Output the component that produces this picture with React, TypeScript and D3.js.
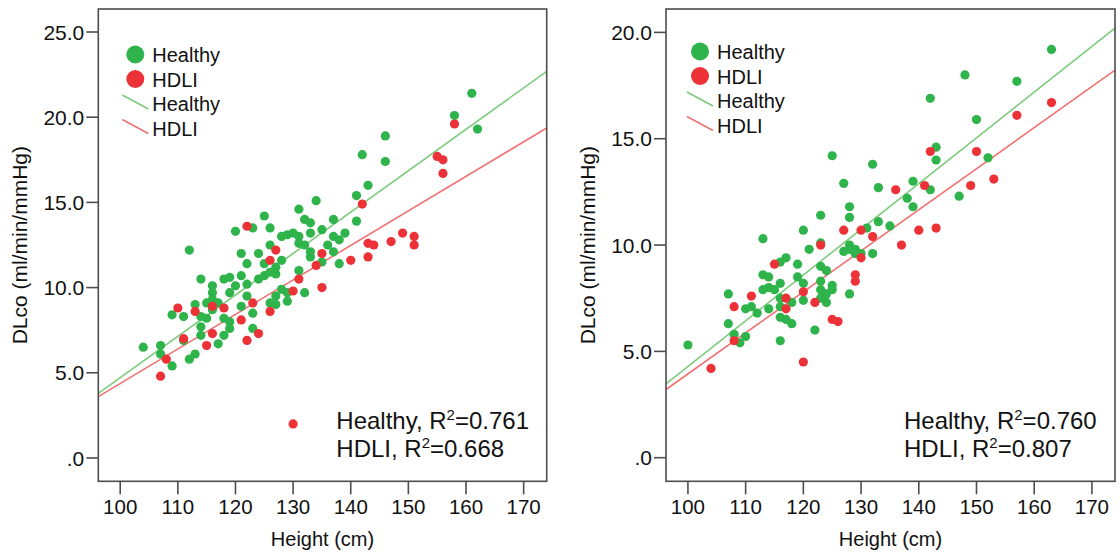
import React from "react";
import * as d3 from "d3";

// Height (cm) vs DLco (ml/min/mmHg), two cohorts side by side.

const groups = ["Healthy", "HDLI"];
const heightTicks = [100, 110, 120, 130, 140, 150, 160, 170];
const leftDlcoTicks = [0, 5, 10, 15, 20, 25];
const rightDlcoTicks = [0, 5, 10, 15, 20];

// [height, DLco]
const leftHealthy: [number, number][] = [
  [161, 21.4], [158, 20.1], [162, 19.3], [146, 18.9], [146, 17.4], [142, 17.8], [143, 16.0],
  [141, 15.4], [141, 13.9], [134, 15.1], [131, 14.6], [125, 14.2], [137, 14.0], [132, 14.0],
  [133, 13.8], [120, 13.3], [123, 13.5], [126, 13.5], [135, 13.4], [139, 13.2], [137, 13.0],
  [138, 12.8], [128, 13.0], [129, 13.1], [130, 13.2], [131, 13.0], [133, 13.2], [136, 12.5],
  [131, 12.6], [132, 12.5], [126, 12.5], [121, 12.0], [124, 12.0], [133, 12.1], [137, 12.1],
  [133, 11.8], [135, 11.5], [138, 11.4], [112, 12.2], [122, 11.4],
  [104, 6.5], [107, 6.6], [107, 6.1], [109, 5.4], [109, 8.4], [111, 8.3], [111, 6.9], [112, 5.8],
  [113, 6.1], [113, 9.0], [114, 10.5], [114, 8.3], [114, 7.7], [114, 7.2], [115, 9.1], [115, 8.2],
  [116, 10.1], [116, 9.7], [116, 9.3], [116, 8.7], [117, 9.1], [117, 6.7], [118, 10.5], [119, 10.6],
  [118, 8.2], [118, 7.2], [119, 9.7], [119, 8.0], [119, 7.6], [120, 10.1], [121, 10.7], [121, 8.9],
  [122, 10.2], [122, 9.5], [123, 8.5], [123, 7.6], [124, 10.5], [125, 11.4], [125, 10.7], [126, 10.9],
  [126, 9.1], [127, 11.2], [127, 10.8], [127, 9.5], [127, 9.0], [128, 11.6], [128, 9.9], [129, 9.7],
  [129, 9.2], [131, 11.0], [132, 9.7],
];

const leftHdli: [number, number][] = [
  [107, 4.8], [108, 5.8], [110, 8.8], [111, 7.0], [113, 8.6], [115, 6.6], [116, 8.9], [116, 7.3],
  [118, 8.8], [121, 8.1], [122, 6.9], [122, 13.6], [123, 9.1], [124, 7.3], [126, 11.6], [126, 8.6],
  [127, 12.2], [130, 9.8], [131, 10.5], [134, 11.3], [135, 12.0], [135, 10.0], [140, 11.6],
  [142, 14.9], [143, 12.6], [144, 12.5], [143, 11.8], [147, 12.7], [149, 13.2], [151, 13.0],
  [151, 12.5], [155, 17.7], [156, 17.5], [156, 16.7], [158, 19.6], [130, 2.0],
];

const rightHealthy: [number, number][] = [
  [100, 5.3], [107, 7.7], [107, 6.3], [108, 5.8], [109, 5.4], [110, 5.7], [110, 7.0], [111, 7.1],
  [112, 6.8], [113, 10.3], [113, 8.6], [114, 8.5], [114, 8.0], [114, 7.0], [113, 7.9], [115, 7.9],
  [116, 8.2], [116, 7.5], [116, 7.1], [116, 6.6], [116, 5.5], [117, 9.4], [116, 9.2], [117, 6.5],
  [118, 6.3], [118, 7.3], [119, 9.1], [119, 8.5], [120, 10.7], [120, 8.2], [120, 7.4], [121, 9.8],
  [122, 6.0], [123, 11.4], [123, 10.1], [123, 9.0], [123, 8.3], [123, 7.9], [123, 7.5], [124, 8.8],
  [124, 7.7], [124, 7.3], [125, 8.1], [125, 7.9], [125, 14.2], [127, 12.9], [128, 11.8], [128, 11.3],
  [127, 9.7], [128, 10.0], [128, 9.8], [128, 7.7], [129, 9.8], [129, 9.6], [130, 9.6], [131, 10.8],
  [132, 9.6], [133, 11.1], [133, 12.7], [132, 13.8], [135, 10.9], [138, 12.2], [139, 13.0],
  [139, 11.8], [142, 12.6], [142, 16.9], [143, 14.6], [143, 14.0], [147, 12.3], [148, 18.0],
  [150, 15.9], [152, 14.1], [157, 17.7], [163, 19.2],
];

const rightHdli: [number, number][] = [
  [104, 4.2], [108, 7.1], [108, 5.5], [111, 7.6], [115, 9.1], [117, 7.5], [117, 7.0], [120, 7.8],
  [120, 4.5], [122, 7.3], [123, 10.0], [125, 6.5], [126, 6.4], [127, 10.7], [129, 8.6], [129, 8.3],
  [130, 9.4], [130, 10.7], [132, 10.4], [136, 12.6], [137, 10.0], [140, 10.7], [141, 12.8],
  [142, 14.4], [143, 10.8], [149, 12.8], [150, 14.4], [153, 13.1], [157, 16.1], [163, 16.7],
];

// Linear fits, DLco = slope * height + intercept (Healthy, HDLI)
const leftSlopes = [0.243, 0.2026];
const leftIntercepts = [-19.59, -15.89];
const rightSlopes = [0.215, 0.193];
const rightIntercepts = [-17.21, -15.36];

const leftR2 = ["0.761", "0.668"];
const rightR2 = ["0.760", "0.807"];

const heightDomain: [number, number] = [96.2, 174.0];
const leftDlcoDomain: [number, number] = [-1.37, 26.35];
const rightDlcoDomain: [number, number] = [-1.11, 21.1];

const FONT = "'Liberation Sans', Arial, Helvetica, sans-serif";
const DOT = ["#2fb34b", "#ec3237"];
const FIT = ["#7ccb7c", "#ee7373"];
const FRAME = "#4d4d4d";

type PanelProps = {
  left: number;
  right: number;
  top: number;
  bottom: number;
  yDomain: [number, number];
  yTicks: number[];
  series: [number, number][][];
  slopes: number[];
  intercepts: number[];
  r2: string[];
  legendDx: number;
  legendDy: number;
};

function Panel(p: PanelProps) {
  const x = d3.scaleLinear().domain(heightDomain).range([p.left, p.right]);
  const y = d3.scaleLinear().domain(p.yDomain).range([p.bottom, p.top]);
  const fmt = (v: number) => (v === 0 ? ".0" : d3.format(".1f")(v));
  const line = d3
    .line<number>()
    .x((h) => x(h))
    .y((h) => y(h));

  const lx = p.left + p.legendDx;
  const ly = p.top + p.legendDy;

  return (
    <g fontFamily={FONT}>
      {/* fit lines */}
      {p.slopes.map((s, i) => (
        <path
          key={"fit" + i}
          d={line.y((h) => y(s * h + p.intercepts[i]))(heightDomain) || ""}
          fill="none"
          stroke={FIT[i]}
          strokeWidth={1.6}
        />
      ))}

      {/* points */}
      {p.series.map((pts, i) => (
        <g key={"s" + i} fill={DOT[i]}>
          {pts.map(([h, v], j) => (
            <circle key={j} cx={x(h)} cy={y(v)} r={4.6} />
          ))}
        </g>
      ))}

      {/* frame */}
      <rect
        x={p.left}
        y={p.top}
        width={p.right - p.left}
        height={p.bottom - p.top}
        fill="none"
        stroke={FRAME}
        strokeWidth={1.6}
      />

      {/* y axis */}
      {p.yTicks.map((t) => (
        <g key={"y" + t}>
          <line x1={p.left - 12} x2={p.left} y1={y(t)} y2={y(t)} stroke={FRAME} strokeWidth={1.6} />
          <text x={p.left - 14} y={y(t)} dy="0.36em" textAnchor="end" fontSize={21} fill="#111">
            {fmt(t)}
          </text>
        </g>
      ))}

      {/* x axis */}
      {heightTicks.map((t) => (
        <g key={"x" + t}>
          <line x1={x(t)} x2={x(t)} y1={p.bottom} y2={p.bottom + 13} stroke={FRAME} strokeWidth={1.6} />
          <text x={x(t)} y={p.bottom + 33} textAnchor="middle" fontSize={20.5} fill="#111">
            {t}
          </text>
        </g>
      ))}

      <text
        x={(p.left + p.right) / 2}
        y={546}
        textAnchor="middle"
        fontSize={20}
        fill="#111"
      >
        Height (cm)
      </text>
      <text
        transform={`translate(${p.left - 71},${(p.top + p.bottom) / 2}) rotate(-90)`}
        textAnchor="middle"
        fontSize={21}
        fill="#111"
      >
        DLco (ml/min/mmHg)
      </text>

      {/* legend */}
      {groups.map((g, i) => (
        <g key={"lm" + g}>
          <circle cx={lx} cy={ly + i * 24.5 - 7.5} r={9} fill={DOT[i]} />
          <text x={lx + 17} y={ly + i * 24.5} fontSize={20} fill="#111">
            {g}
          </text>
        </g>
      ))}
      {groups.map((g, i) => {
        const by = ly + (i + 2) * 24.5;
        return (
          <g key={"ll" + g}>
            <line x1={lx - 13} x2={lx + 13} y1={by - 16} y2={by - 2} stroke={FIT[i]} strokeWidth={1.6} />
            <text x={lx + 17} y={by} fontSize={20} fill="#111">
              {g}
            </text>
          </g>
        );
      })}

      {/* R squared */}
      {groups.map((g, i) => (
        <text key={"r2" + g} x={p.left + 238} y={429 + i * 28} fontSize={24} fill="#111">
          {g}, R
          <tspan fontSize={15} dy={-9}>
            2
          </tspan>
          <tspan dy={9}>={p.r2[i]}</tspan>
        </text>
      ))}
    </g>
  );
}

export default function App() {
  return (
    <svg
      width={1120}
      height={556}
      viewBox="0 0 1120 556"
      style={{ position: "absolute", left: 0, top: 0, background: "#fff" }}
    >
      <rect width={1120} height={556} fill="#fff" />
      <Panel
        left={98.3}
        right={546.7}
        top={9}
        bottom={481.3}
        yDomain={leftDlcoDomain}
        yTicks={leftDlcoTicks}
        series={[leftHealthy, leftHdli]}
        slopes={leftSlopes}
        intercepts={leftIntercepts}
        r2={leftR2}
        legendDx={37}
        legendDy={53}
      />
      <Panel
        left={666}
        right={1115}
        top={9}
        bottom={481.3}
        yDomain={rightDlcoDomain}
        yTicks={rightDlcoTicks}
        series={[rightHealthy, rightHdli]}
        slopes={rightSlopes}
        intercepts={rightIntercepts}
        r2={rightR2}
        legendDx={34}
        legendDy={50}
      />
    </svg>
  );
}
